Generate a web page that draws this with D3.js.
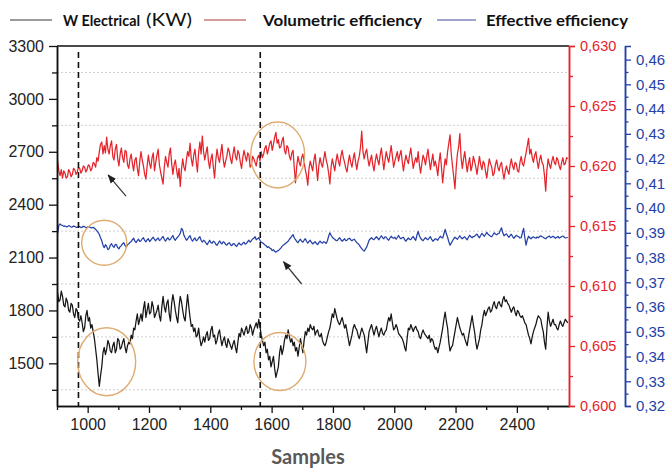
<!DOCTYPE html>
<html>
<head>
<meta charset="utf-8">
<script src="https://cdn.jsdelivr.net/npm/d3@7"></script>
<style>
  body { margin: 0; background: #fff; }
  svg { display: block; }
</style>
</head>
<body>
<div id="chart"></div>
<script>
// samples on the x axis (every 4th sample)
const samples = d3.range(902, 2567, 4);

// W Electrical (KW), left axis
const wElectrical = [
  1900, 1850, 1860, 1910, 1880, 1830, 1820, 1870, 1850, 1800, 1790, 1840, 1830, 1780, 1760, 1810, 1800, 1750, 1740, 1770,
  1730, 1680, 1700, 1770, 1800, 1740, 1760, 1700, 1720, 1680, 1640, 1580, 1520, 1440, 1370, 1430, 1480, 1560, 1590, 1550,
  1580, 1630, 1610, 1570, 1560, 1600, 1620, 1560, 1580, 1640, 1630, 1580, 1590, 1620, 1640, 1590, 1560, 1600, 1620, 1610,
  1660, 1640, 1700, 1690, 1740, 1780, 1720, 1750, 1780, 1740, 1810, 1850, 1760, 1800, 1840, 1780, 1790, 1850, 1820, 1760,
  1780, 1800, 1830, 1770, 1740, 1820, 1880, 1820, 1790, 1840, 1860, 1780, 1740, 1840, 1890, 1850, 1800, 1760, 1730, 1820,
  1880, 1850, 1800, 1760, 1740, 1820, 1890, 1820, 1760, 1710, 1720, 1680, 1700, 1650, 1660, 1700, 1640, 1600, 1620, 1650,
  1620, 1660, 1680, 1630, 1640, 1690, 1710, 1650, 1660, 1610, 1630, 1670, 1690, 1640, 1600, 1630, 1650, 1610, 1590, 1640,
  1620, 1600, 1580, 1610, 1630, 1590, 1560, 1620, 1670, 1650, 1700, 1680, 1660, 1690, 1710, 1670, 1680, 1720, 1700, 1660,
  1690, 1710, 1730, 1700, 1750, 1710, 1660, 1630, 1600, 1620, 1560, 1580, 1520, 1540, 1480, 1510, 1540, 1470, 1420, 1450,
  1480, 1560, 1600, 1550, 1580, 1630, 1660, 1640, 1690, 1650, 1620, 1640, 1600, 1620, 1570, 1590, 1540, 1590, 1640, 1600,
  1560, 1630, 1680, 1660, 1700, 1680, 1720, 1700, 1690, 1710, 1660, 1680, 1690, 1660, 1650, 1670, 1630, 1610, 1600, 1620,
  1650, 1680, 1700, 1740, 1780, 1760, 1810, 1780, 1750, 1730, 1720, 1740, 1760, 1730, 1700, 1720, 1680, 1640, 1600, 1630,
  1660, 1700, 1720, 1700, 1690, 1660, 1640, 1670, 1700, 1680, 1660, 1610, 1560, 1620, 1680, 1700, 1720, 1690, 1660, 1690,
  1710, 1680, 1650, 1680, 1700, 1670, 1660, 1680, 1690, 1730, 1760, 1740, 1780, 1730, 1690, 1700, 1720, 1700, 1670, 1660,
  1650, 1640, 1620, 1590, 1570, 1640, 1700, 1690, 1720, 1700, 1680, 1700, 1710, 1690, 1680, 1650, 1640, 1670, 1690, 1670,
  1660, 1650, 1640, 1660, 1620, 1640, 1630, 1600, 1580, 1590, 1560, 1590, 1620, 1660, 1700, 1750, 1790, 1740, 1700, 1620,
  1570, 1590, 1600, 1640, 1680, 1720, 1760, 1730, 1700, 1680, 1660, 1670, 1640, 1620, 1600, 1650, 1690, 1730, 1770, 1720,
  1680, 1620, 1580, 1610, 1640, 1690, 1720, 1770, 1800, 1770, 1790, 1810, 1820, 1790, 1800, 1830, 1850, 1820, 1810, 1840,
  1850, 1830, 1820, 1860, 1880, 1850, 1860, 1840, 1830, 1810, 1790, 1810, 1820, 1790, 1770, 1800, 1790, 1770, 1760, 1770,
  1750, 1730, 1720, 1690, 1660, 1640, 1610, 1650, 1680, 1700, 1720, 1750, 1770, 1760, 1750, 1710, 1680, 1620, 1580, 1700,
  1790, 1740, 1710, 1730, 1750, 1720, 1720, 1700, 1690, 1720, 1740, 1720, 1710, 1730, 1750, 1740, 1730
];

// Volumetric efficiency, red axis
const volEff = [
  .6204, .6196, .6192, .6197, .6190, .6196, .6194, .6190, .6191, .6197, .6195, .6191, .6193, .6198, .6197, .6193, .6195, .6199, .6198, .6194,
  .6196, .6200, .6199, .6195, .6197, .6201, .6200, .6196, .6198, .6203, .6202, .6199, .6207, .6204, .6212, .6218, .6220, .6210, .6217, .6211,
  .6224, .6214, .6210, .6217, .6221, .6208, .6205, .6214, .6218, .6206, .6200, .6210, .6215, .6207, .6203, .6213, .6212, .6201, .6198, .6206,
  .6210, .6202, .6196, .6205, .6207, .6198, .6192, .6204, .6212, .6205, .6200, .6193, .6189, .6200, .6209, .6202, .6198, .6207, .6211, .6196,
  .6203, .6209, .6214, .6201, .6195, .6190, .6185, .6199, .6208, .6203, .6199, .6210, .6215, .6202, .6193, .6201, .6205, .6197, .6190, .6198,
  .6183, .6197, .6206, .6199, .6196, .6205, .6212, .6208, .6219, .6206, .6200, .6209, .6214, .6204, .6195, .6211, .6220, .6210, .6225, .6212,
  .6205, .6211, .6216, .6204, .6198, .6206, .6210, .6199, .6190, .6205, .6214, .6207, .6203, .6211, .6218, .6206, .6199, .6204, .6208, .6215,
  .6212, .6206, .6202, .6210, .6216, .6208, .6205, .6213, .6210, .6203, .6198, .6207, .6213, .6208, .6204, .6211, .6209, .6199, .6201, .6208,
  .6206, .6203, .6200, .6207, .6209, .6204, .6212, .6207, .6210, .6215, .6217, .6210, .6214, .6219, .6221, .6213, .6218, .6224, .6228, .6219,
  .6222, .6215, .6216, .6221, .6224, .6213, .6210, .6217, .6215, .6208, .6205, .6211, .6213, .6198, .6186, .6200, .6208, .6203, .6200, .6207,
  .6210, .6203, .6197, .6192, .6184, .6198, .6204, .6200, .6196, .6205, .6210, .6199, .6188, .6200, .6207, .6202, .6199, .6206, .6212, .6205,
  .6201, .6194, .6185, .6199, .6206, .6201, .6196, .6204, .6210, .6204, .6200, .6208, .6213, .6207, .6203, .6198, .6195, .6203, .6209, .6203,
  .6199, .6206, .6211, .6203, .6197, .6204, .6208, .6216, .6229, .6212, .6206, .6211, .6214, .6206, .6200, .6205, .6209, .6201, .6196, .6204,
  .6210, .6205, .6201, .6209, .6215, .6206, .6197, .6205, .6212, .6207, .6203, .6210, .6217, .6208, .6199, .6204, .6208, .6212, .6204, .6209,
  .6213, .6204, .6196, .6203, .6209, .6205, .6202, .6209, .6215, .6206, .6198, .6203, .6207, .6203, .6212, .6201, .6194, .6202, .6209, .6206,
  .6201, .6208, .6214, .6205, .6197, .6204, .6210, .6200, .6204, .6199, .6192, .6203, .6211, .6199, .6186, .6197, .6206, .6201, .6212, .6219,
  .6226, .6210, .6200, .6191, .6181, .6198, .6210, .6216, .6227, .6207, .6198, .6206, .6212, .6203, .6195, .6202, .6207, .6196, .6200, .6208,
  .6204, .6199, .6193, .6201, .6208, .6201, .6197, .6204, .6202, .6195, .6190, .6199, .6206, .6202, .6199, .6192, .6194, .6201, .6205, .6199,
  .6196, .6201, .6203, .6195, .6189, .6196, .6200, .6196, .6193, .6201, .6206, .6200, .6197, .6203, .6202, .6196, .6195, .6203, .6208, .6202,
  .6200, .6206, .6211, .6217, .6223, .6210, .6214, .6207, .6203, .6209, .6212, .6204, .6198, .6205, .6209, .6203, .6201, .6192, .6179, .6197,
  .6206, .6201, .6198, .6204, .6208, .6203, .6201, .6207, .6205, .6200, .6197, .6203, .6207, .6201, .6202, .6207, .6206
];

// Effective efficiency, blue axis
const effEff = [
  .3898, .3930, .3936, .3931, .3930, .3926, .3928, .3924, .3925, .3929, .3927, .3923, .3924, .3927, .3926, .3922, .3922, .3926, .3925, .3921,
  .3923, .3926, .3925, .3921, .3922, .3925, .3924, .3920, .3921, .3922, .3918, .3914, .3908, .3902, .3893, .3880, .3868, .3850, .3840, .3852,
  .3845, .3832, .3836, .3850, .3856, .3846, .3841, .3853, .3852, .3840, .3835, .3845, .3848, .3856, .3860, .3848, .3842, .3852, .3855, .3861,
  .3865, .3872, .3878, .3866, .3860, .3869, .3874, .3865, .3868, .3876, .3880, .3869, .3863, .3872, .3876, .3865, .3870, .3877, .3882, .3873,
  .3868, .3875, .3879, .3869, .3872, .3880, .3885, .3874, .3866, .3875, .3880, .3871, .3874, .3882, .3889, .3876, .3870, .3878, .3883, .3890,
  .3898, .3918, .3912, .3890, .3880, .3870, .3875, .3883, .3888, .3874, .3866, .3874, .3879, .3868, .3871, .3879, .3884, .3870, .3862, .3870,
  .3866, .3858, .3852, .3862, .3870, .3860, .3858, .3866, .3863, .3854, .3849, .3858, .3867, .3860, .3855, .3864, .3861, .3853, .3850, .3857,
  .3860, .3852, .3848, .3855, .3856, .3849, .3845, .3853, .3859, .3852, .3851, .3858, .3862, .3854, .3857, .3864, .3870, .3862, .3868, .3875,
  .3878, .3884, .3872, .3876, .3880, .3870, .3862, .3860, .3856, .3851, .3848, .3841, .3844, .3838, .3836, .3828, .3832, .3825, .3822, .3826,
  .3828, .3833, .3838, .3845, .3850, .3854, .3858, .3862, .3866, .3874, .3880, .3887, .3892, .3880, .3872, .3865, .3860, .3868, .3874, .3866,
  .3862, .3870, .3876, .3866, .3858, .3865, .3870, .3861, .3855, .3860, .3864, .3857, .3852, .3860, .3866, .3861, .3858, .3864, .3862, .3857,
  .3868, .3886, .3900, .3890, .3882, .3877, .3874, .3869, .3868, .3875, .3880, .3872, .3866, .3871, .3876, .3868, .3870, .3876, .3878, .3872,
  .3868, .3872, .3874, .3866, .3860, .3856, .3850, .3842, .3836, .3830, .3826, .3834, .3842, .3856, .3870, .3876, .3880, .3875, .3872, .3879,
  .3884, .3878, .3872, .3881, .3888, .3880, .3876, .3884, .3882, .3874, .3870, .3879, .3886, .3880, .3878, .3882, .3874, .3881, .3889, .3880,
  .3876, .3880, .3882, .3872, .3866, .3873, .3879, .3874, .3872, .3880, .3885, .3876, .3870, .3890, .3906, .3888, .3878, .3872, .3868, .3875,
  .3880, .3875, .3872, .3879, .3884, .3873, .3866, .3871, .3876, .3874, .3870, .3879, .3886, .3881, .3879, .3896, .3914, .3896, .3882, .3864,
  .3850, .3858, .3868, .3876, .3882, .3878, .3874, .3881, .3888, .3880, .3876, .3881, .3884, .3877, .3872, .3882, .3890, .3884, .3880, .3885,
  .3886, .3891, .3895, .3886, .3880, .3889, .3898, .3892, .3886, .3894, .3902, .3894, .3890, .3886, .3884, .3892, .3900, .3895, .3892, .3896,
  .3898, .3910, .3920, .3900, .3888, .3892, .3896, .3888, .3882, .3889, .3894, .3885, .3878, .3884, .3890, .3886, .3884, .3879, .3880, .3900,
  .3918, .3880, .3850, .3872, .3886, .3880, .3876, .3881, .3884, .3880, .3878, .3883, .3880, .3885, .3888, .3884, .3882, .3878, .3876, .3881,
  .3884, .3887, .3880, .3883, .3886, .3882, .3878, .3882, .3885, .3879, .3881, .3885, .3887, .3883, .3879, .3880, .3882
];

// tick values
const xTicks = [1000, 1200, 1400, 1600, 1800, 2000, 2200, 2400];
const leftTicks = [1500, 1800, 2100, 2400, 2700, 3000, 3300];
const redTicks = [0.600, 0.605, 0.610, 0.615, 0.620, 0.625, 0.630];
const blueTicks = d3.range(32, 47).map(d => d / 100);

// marked events
const eventLines = [970, 1563];
const circles = [
  { s: 1054, v: 2184, rx: 22.5, ry: 22.5 },
  { s: 1062, v: 1509, rx: 29, ry: 34 },
  { s: 1620, v: 2682, rx: 27, ry: 33 },
  { s: 1627, v: 1510, rx: 26, ry: 29 }
];
const arrows = [
  { s0: 1125, v0: 2449, s1: 1067, v1: 2568 },
  { s0: 1698, v0: 1950, s1: 1639, v1: 2076 }
];

const width = 667, height = 469;
const margin = { top: 46, right: 98, bottom: 63, left: 57 };
const innerW = width - margin.left - margin.right;
const innerH = height - margin.top - margin.bottom;
const tickFont = '"Liberation Sans", Arial, sans-serif';

const colors = { black: '#161616', red: '#e5232b', blue: '#2541a8', ring: '#deac72' };

const svg = d3.select('#chart').append('svg')
  .attr('width', width)
  .attr('height', height)
  .style('background', '#fff');

const g = svg.append('g').attr('transform', `translate(${margin.left},${margin.top})`);

const x = d3.scaleLinear().domain([900, 2570]).range([0, innerW]);
const yL = d3.scaleLinear().domain([1258, 3300]).range([innerH, 0]);
const yR = d3.scaleLinear().domain([0.600, 0.630]).range([innerH, 0]);
const yB = d3.scaleLinear().domain([0.32, 0.4655]).range([innerH, 0]);

const comma = d3.formatLocale({ decimal: ',', thousands: '.', grouping: [3], currency: ['', ''] });

// dotted grid on the minor left ticks
const gridVals = d3.range(1350, 3300, 300);
g.selectAll('.grid')
  .data(gridVals)
  .join('line')
  .attr('class', 'grid')
  .attr('x1', 0).attr('x2', innerW)
  .attr('y1', d => yL(d)).attr('y2', d => yL(d))
  .attr('stroke', '#cfcfcf')
  .attr('stroke-width', 1)
  .attr('stroke-dasharray', '2,2');

g.append('clipPath').attr('id', 'clip')
  .append('rect').attr('width', innerW).attr('height', innerH);

const plot = g.append('g').attr('clip-path', 'url(#clip)');

const series = [
  { values: wElectrical, y: yL, color: colors.black },
  { values: volEff, y: yR, color: colors.red },
  { values: effEff, y: yB, color: colors.blue }
];

series.forEach(sr => {
  const line = d3.line()
    .x((d, i) => x(samples[i]))
    .y(d => sr.y(d));
  plot.append('path')
    .datum(sr.values)
    .attr('fill', 'none')
    .attr('stroke', sr.color)
    .attr('stroke-width', 1.25)
    .attr('stroke-linejoin', 'round')
    .attr('d', line);
});

// dashed event lines
g.selectAll('.event')
  .data(eventLines)
  .join('line')
  .attr('class', 'event')
  .attr('x1', d => x(d)).attr('x2', d => x(d))
  .attr('y1', 6).attr('y2', innerH)
  .attr('stroke', '#111')
  .attr('stroke-width', 1.6)
  .attr('stroke-dasharray', '6,4');

// rings
g.selectAll('.ring')
  .data(circles)
  .join('ellipse')
  .attr('class', 'ring')
  .attr('cx', d => x(d.s)).attr('cy', d => yL(d.v))
  .attr('rx', d => d.rx).attr('ry', d => d.ry)
  .attr('fill', 'none')
  .attr('stroke', colors.ring)
  .attr('stroke-width', 1.4);

// arrows
svg.append('defs').append('marker')
  .attr('id', 'head')
  .attr('viewBox', '0 0 10 10')
  .attr('refX', 9).attr('refY', 5)
  .attr('markerWidth', 9).attr('markerHeight', 9)
  .attr('markerUnits', 'userSpaceOnUse')
  .attr('orient', 'auto')
  .append('path').attr('d', 'M0,1 L10,5 L0,9 Z').attr('fill', '#222');

g.selectAll('.arrow')
  .data(arrows)
  .join('line')
  .attr('class', 'arrow')
  .attr('x1', d => x(d.s0)).attr('y1', d => yL(d.v0))
  .attr('x2', d => x(d.s1)).attr('y2', d => yL(d.v1))
  .attr('stroke', '#333')
  .attr('stroke-width', 1.2)
  .attr('marker-end', 'url(#head)');

// frame: top line
g.append('line')
  .attr('x1', 0).attr('x2', innerW).attr('y1', 0).attr('y2', 0)
  .attr('stroke', '#111').attr('stroke-width', 1.5);

function styleAxis(sel, color, fontSize) {
  sel.attr('font-family', tickFont).attr('font-size', fontSize);
  sel.select('.domain').attr('stroke', color).attr('stroke-width', 1.5);
  sel.selectAll('.tick line').attr('stroke', color).attr('stroke-width', 1.3);
  sel.selectAll('.tick text').attr('fill', color);
}

// left axis
const leftMinor = g.append('g')
  .call(d3.axisLeft(yL).tickValues(gridVals).tickSize(5).tickSizeOuter(0).tickFormat(''));
styleAxis(leftMinor, '#111', 16);
const leftAxis = g.append('g')
  .call(d3.axisLeft(yL).tickValues(leftTicks).tickSize(8).tickSizeOuter(0).tickPadding(5)
    .tickFormat(d3.format('d')));
styleAxis(leftAxis, '#111', 16);
leftAxis.selectAll('.tick text').attr('fill', '#222');

// bottom axis
const xMinor = d3.range(900, 2570, 100).filter(d => d % 200 !== 0);
const bottomMinor = g.append('g').attr('transform', `translate(0,${innerH})`)
  .call(d3.axisBottom(x).tickValues(xMinor).tickSize(4).tickSizeOuter(0).tickFormat(''));
styleAxis(bottomMinor, '#111', 16);
const bottomAxis = g.append('g').attr('transform', `translate(0,${innerH})`)
  .call(d3.axisBottom(x).tickValues(xTicks).tickSize(7).tickSizeOuter(0).tickPadding(6).tickFormat(d3.format('d')));
styleAxis(bottomAxis, '#111', 16);
bottomAxis.selectAll('.tick text').attr('fill', '#222');

// red axis
const redMinor = d3.range(6025, 6300, 50).map(d => d / 10000);
const redAxisMinor = g.append('g').attr('transform', `translate(${innerW},0)`)
  .call(d3.axisRight(yR).tickValues(redMinor).tickSize(4).tickSizeOuter(0).tickFormat(''));
styleAxis(redAxisMinor, colors.red, 14.5);
const redAxis = g.append('g').attr('transform', `translate(${innerW},0)`)
  .call(d3.axisRight(yR).tickValues(redTicks).tickSize(6).tickSizeOuter(6).tickPadding(5)
    .tickFormat(comma.format('.3f')));
styleAxis(redAxis, colors.red, 14.5);

// blue axis
const blueX = 625 - margin.left;
const blueMinor = d3.range(325, 465, 10).map(d => d / 1000);
const blueAxisMinor = g.append('g').attr('transform', `translate(${blueX},0)`)
  .call(d3.axisRight(yB).tickValues(blueMinor).tickSize(3.5).tickSizeOuter(0).tickFormat(''));
styleAxis(blueAxisMinor, colors.blue, 15);
const blueAxis = g.append('g').attr('transform', `translate(${blueX},0)`)
  .call(d3.axisRight(yB).tickValues(blueTicks).tickSize(6).tickSizeOuter(6).tickPadding(5)
    .tickFormat(comma.format('.2f')));
styleAxis(blueAxis, colors.blue, 15);

// x title
svg.append('text')
  .attr('x', 308).attr('y', 464)
  .attr('text-anchor', 'middle')
  .style('font-family', 'Lato, "Open Sans", sans-serif')
  .style('font-weight', 700)
  .style('font-size', '20px')
  .attr('fill', '#595959')
  .text('Samples');

// legend
const legendItems = [
  { x0: 10, x1: 52, color: '#7a7a7a', label: 'W Electrical', tx: 63, tw: 77, weight: 700, size: 15.5 },
  { x0: null, label: '(KW)', tx: 146, tw: 46, weight: 400, size: 18 },
  { x0: 204, x1: 246, color: '#c97a7a', label: 'Volumetric efficiency', tx: 263, tw: 159, weight: 700, size: 15.5 },
  { x0: 437, x1: 476, color: '#7f84bd', label: 'Effective efficiency', tx: 486, tw: 142, weight: 700, size: 15.5 }
];
const legend = svg.append('g');
legendItems.forEach(it => {
  if (it.x0 !== null) {
    legend.append('line')
      .attr('x1', it.x0).attr('x2', it.x1).attr('y1', 20).attr('y2', 20)
      .attr('stroke', it.color).attr('stroke-width', 1.3);
  }
  legend.append('text')
    .attr('x', it.tx).attr('y', 26)
    .attr('textLength', it.tw)
    .attr('lengthAdjust', 'spacingAndGlyphs')
    .style('font-family', 'Lato, "Open Sans", sans-serif')
    .style('font-weight', it.weight)
    .style('font-size', it.size + 'px')
    .attr('fill', '#111')
    .text(it.label);
});
</script>
</body>
</html>
